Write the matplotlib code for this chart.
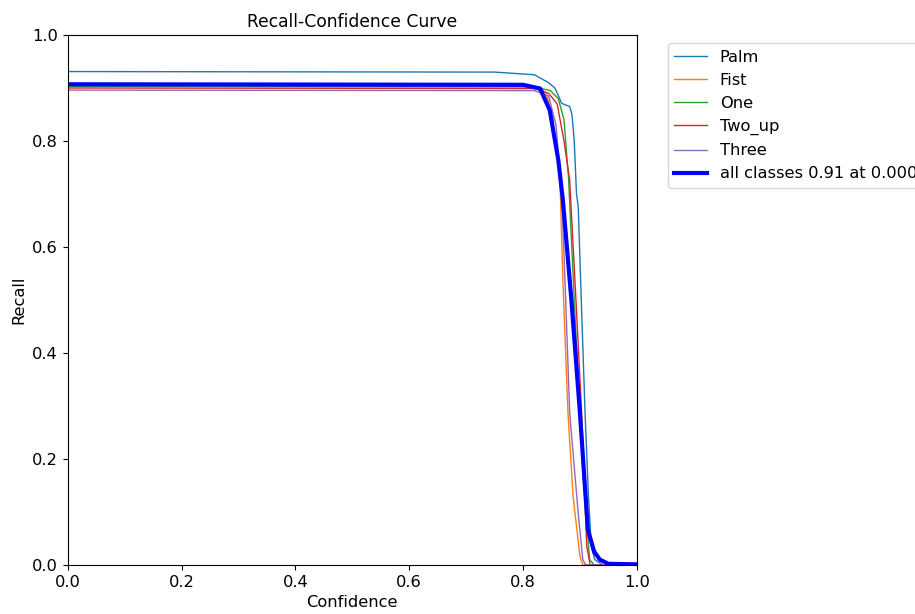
import matplotlib
matplotlib.use("Agg")
from matplotlib import pyplot as plt

# values (confidence breakpoints, recall)
class_names = ["Palm", "Fist", "One", "Two_up", "Three"]

palm_conf = [0, 0.75, 0.82, 0.845, 0.856, 0.868, 0.882, 0.886, 0.890, 0.894, 0.897, 0.903, 0.909, 0.915, 0.920, 0.926, 0.94, 1.0]
palm_rec = [0.931, 0.930, 0.925, 0.91, 0.90, 0.871, 0.865, 0.85, 0.80, 0.70, 0.676, 0.48, 0.287, 0.13, 0.035, 0.01, 0, 0]

fist_conf = [0, 0.80, 0.83, 0.841, 0.852, 0.865, 0.870, 0.879, 0.888, 0.900, 0.905, 1.0]
fist_rec = [0.905, 0.904, 0.90, 0.89, 0.84, 0.726, 0.538, 0.287, 0.129, 0.016, 0, 0]

one_conf = [0, 0.82, 0.848, 0.862, 0.872, 0.880, 0.890, 0.906, 0.917, 0.925, 1.0]
one_rec = [0.903, 0.902, 0.895, 0.88, 0.84, 0.73, 0.50, 0.16, 0.01, 0, 0]

two_conf = [0, 0.82, 0.845, 0.860, 0.872, 0.882, 0.893, 0.903, 0.912, 0.918, 1.0]
two_rec = [0.900, 0.899, 0.89, 0.87, 0.80, 0.726, 0.50, 0.287, 0.035, 0, 0]

three_conf = [0, 0.82, 0.845, 0.858, 0.868, 0.875, 0.882, 0.897, 0.905, 0.91, 1.0]
three_rec = [0.896, 0.895, 0.885, 0.83, 0.70, 0.50, 0.287, 0.097, 0.01, 0, 0]

all_conf = [0, 0.80, 0.830, 0.847, 0.862, 0.870, 0.885, 0.900, 0.914, 0.925, 0.935, 0.95, 1.0]
all_rec = [0.907, 0.906, 0.899, 0.858, 0.764, 0.689, 0.50, 0.287, 0.066, 0.025, 0.01, 0.002, 0.001]

curves = [(palm_conf, palm_rec), (fist_conf, fist_rec), (one_conf, one_rec),
          (two_conf, two_rec), (three_conf, three_rec)]

plt.rcParams['font.size'] = 11.7

fig = plt.figure(figsize=(9.15, 6.14), dpi=100)
ax = fig.add_axes([0.074, 0.08, 0.622, 0.863])

for name, (c, r) in zip(class_names, curves):
    ax.plot(c, r, linewidth=1, label=name)
ax.plot(all_conf, all_rec, linewidth=3, color="blue", label="all classes 0.91 at 0.000")

ax.set_xlim(0, 1)
ax.set_ylim(0, 1)
ax.set_xlabel("Confidence")
ax.set_ylabel("Recall")
ax.set_title("Recall-Confidence Curve", fontsize=12.3)
ax.legend(bbox_to_anchor=(1.04, 1), loc="upper left", fontsize=11.7)

fig.savefig("out.png")
